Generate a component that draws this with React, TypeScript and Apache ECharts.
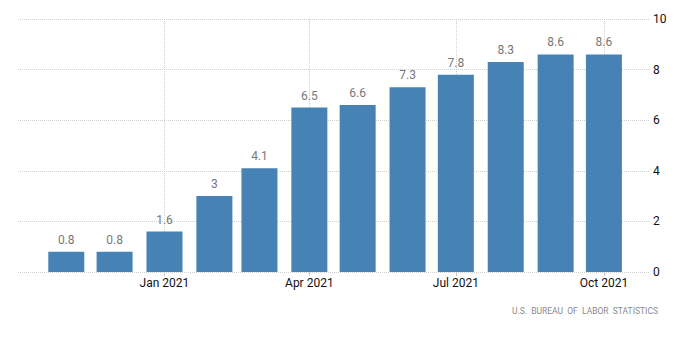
import React, { useEffect, useRef } from "react";
import * as echarts from "echarts";

const months = [
  "2020-11", "2020-12", "2021-01", "2021-02", "2021-03", "2021-04",
  "2021-05", "2021-06", "2021-07", "2021-08", "2021-09", "2021-10",
];
const values = [0.8, 0.8, 1.6, 3, 4.1, 6.5, 6.6, 7.3, 7.8, 8.3, 8.6, 8.6];
const tickMonths = ["2021-01", "2021-04", "2021-07", "2021-10"];
const tickLabels = ["Jan 2021", "Apr 2021", "Jul 2021", "Oct 2021"];
const yTicks = [0, 2, 4, 6, 8, 10];
const sourceText = "U.S.  BUREAU  OF  LABOR  STATISTICS";

const DAY = 86400000;
const EPOCH = Date.UTC(2021, 0, 1);
// day offset from 1 Jan 2021 (a linear date scale)
const toDay = (ym: string, day = 1) => {
  const [y, m] = ym.split("-").map(Number);
  return Math.round((Date.UTC(y, m - 1, day) - EPOCH) / DAY);
};

export default function App() {
  const ref = useRef<HTMLDivElement>(null);
  useEffect(() => {
    document.body.style.margin = "0";
    if (!ref.current) return;
    const chart = echarts.init(ref.current, null, { renderer: "svg" });
    const tickDays = tickMonths.map((m) => toDay(m));
    const font = "Roboto, 'Open Sans', sans-serif";
    chart.setOption({
      animation: false,
      grid: { left: 18, right: 51, top: 19, bottom: 90, containLabel: false },
      xAxis: {
        type: "value",
        min: toDay("2020-10", 2),
        max: toDay("2021-10", 29),
        axisLine: { show: false },
        splitLine: { show: false },
        axisTick: {
          show: true,
          length: 4,
          customValues: tickDays,
          lineStyle: { color: "#c8c8c8" },
        },
        axisLabel: {
          customValues: tickDays,
          margin: 5,
          color: "#111",
          fontSize: 12,
          fontFamily: font,
          formatter: (v: number) => {
            const i = tickDays.indexOf(v);
            return i >= 0 ? tickLabels[i] : "";
          },
        },
      },
      yAxis: {
        type: "value",
        position: "right",
        min: yTicks[0],
        max: yTicks[yTicks.length - 1],
        interval: 2,
        axisLine: { show: false },
        axisTick: { show: false },
        axisLabel: {
          margin: 4,
          color: "#111",
          fontSize: 12,
          fontFamily: font,
          align: "left",
        },
        splitLine: {
          show: true,
          lineStyle: { color: "#cfcfcf", type: [1, 1], width: 1 },
        },
      },
      series: [
        {
          type: "bar",
          barWidth: 36,
          data: months.map((m, i) => [toDay(m), values[i]]),
          itemStyle: { color: "#4682B4" },
          label: {
            show: true,
            position: "top",
            distance: 6,
            color: "#777",
            fontSize: 12,
            fontFamily: font,
            formatter: (p: any) => String(p.value[1]),
          },
          markLine: {
            z: 1,
            silent: true,
            symbol: "none",
            label: { show: false },
            lineStyle: { color: "#cfcfcf", type: [1, 1], width: 1 },
            data: tickDays.map((t) => ({ xAxis: t })),
          },
        },
      ],
      graphic: [
        {
          type: "text",
          right: 42,
          top: 306,
          style: {
            text: sourceText,
            fill: "#8a8a8a",
            fontSize: 8.5,
            fontFamily: font,
          },
        },
      ],
    });
    return () => chart.dispose();
  }, []);
  return <div ref={ref} style={{ width: 700, height: 362 }} />;
}
